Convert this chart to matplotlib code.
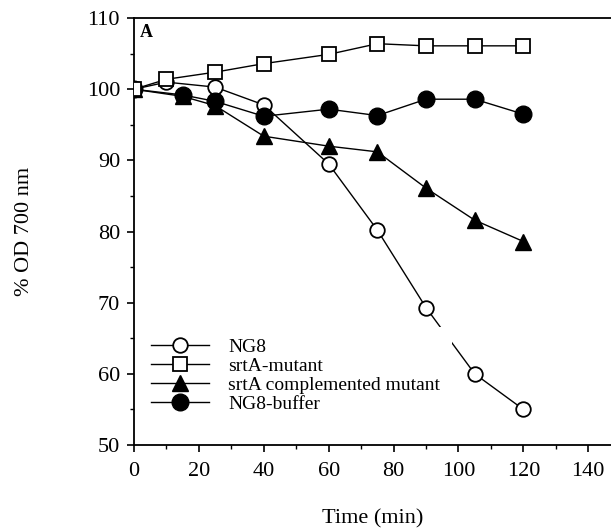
import matplotlib
matplotlib.use("Agg")
import matplotlib.pyplot as plt
from matplotlib.ticker import MultipleLocator

plt.rcParams['font.family'] = ['Liberation Serif', 'DejaVu Serif']

# Data
ng8_x = [0, 10, 25, 40, 60, 75, 90, 105, 120]
ng8_y = [100, 101.0, 100.3, 97.8, 89.5, 80.2, 69.3, 60.0, 55.0]

srta_x = [0, 10, 25, 40, 60, 75, 90, 105, 120]
srta_y = [100, 101.4, 102.4, 103.6, 104.9, 106.4, 106.1, 106.1, 106.1]

comp_x = [0, 15, 25, 40, 60, 75, 90, 105, 120]
comp_y = [100, 99.0, 97.7, 93.4, 92.0, 91.2, 86.1, 81.6, 78.6]

buf_x = [0, 15, 25, 40, 60, 75, 90, 105, 120]
buf_y = [100, 99.2, 98.3, 96.2, 97.2, 96.3, 98.6, 98.6, 96.5]

labels = ["NG8", "srtA-mutant", "srtA complemented mutant", "NG8-buffer"]

fig = plt.figure(figsize=(6.11, 5.29), dpi=100)
ax = fig.add_axes([0.2193, 0.1588, 0.7807, 0.807])

lw = 1.0
ax.plot(ng8_x, ng8_y, '-o', color='black', mfc='white', mec='black', ms=10.5, lw=lw, mew=1.3, label=labels[0], zorder=3)
ax.plot(srta_x, srta_y, '-s', color='black', mfc='white', mec='black', ms=9.5, lw=lw, mew=1.3, label=labels[1], zorder=4)
ax.plot(comp_x, comp_y, '-^', color='black', mfc='black', mec='black', ms=12, lw=lw, label=labels[2], zorder=3)
ax.plot(buf_x, buf_y, '-o', color='black', mfc='black', mec='black', ms=12, lw=lw, label=labels[3], zorder=3)

ax.set_xlim(0, 147)
ax.set_ylim(50, 110)
ax.xaxis.set_major_locator(MultipleLocator(20))
ax.xaxis.set_minor_locator(MultipleLocator(10))
ax.yaxis.set_major_locator(MultipleLocator(10))
ax.yaxis.set_minor_locator(MultipleLocator(5))
ax.tick_params(which='major', direction='out', length=5, width=1.2, labelsize=16)
ax.tick_params(axis='x', which='major', pad=7)
ax.tick_params(axis='y', which='major', pad=5)
ax.tick_params(which='minor', direction='out', length=3, width=1.0)
ax.spines['right'].set_visible(False)
for s in ['left', 'bottom', 'top']:
    ax.spines[s].set_linewidth(1.3)

ax.text(0.012, 0.985, "A", transform=ax.transAxes, fontsize=13, fontweight='bold', va='top', ha='left')

ax.set_xlabel("Time (min)", fontsize=16, va='top')
ax.xaxis.set_label_coords(0.5, -0.15)
ax.set_ylabel("% OD 700 nm", fontsize=16)
ax.yaxis.set_label_coords(-0.21, 0.5)

leg = ax.legend(loc='upper left', bbox_to_anchor=(0.0, 0.288), frameon=True, fontsize=14,
                handlelength=3.0, handletextpad=1.0, labelspacing=0.07, borderpad=0.6,
                fancybox=False, borderaxespad=0.25)
leg.get_frame().set_facecolor('white')
leg.get_frame().set_edgecolor('none')
leg.get_frame().set_alpha(1.0)
leg.set_zorder(5)

fig.savefig("out.png", dpi=100)
